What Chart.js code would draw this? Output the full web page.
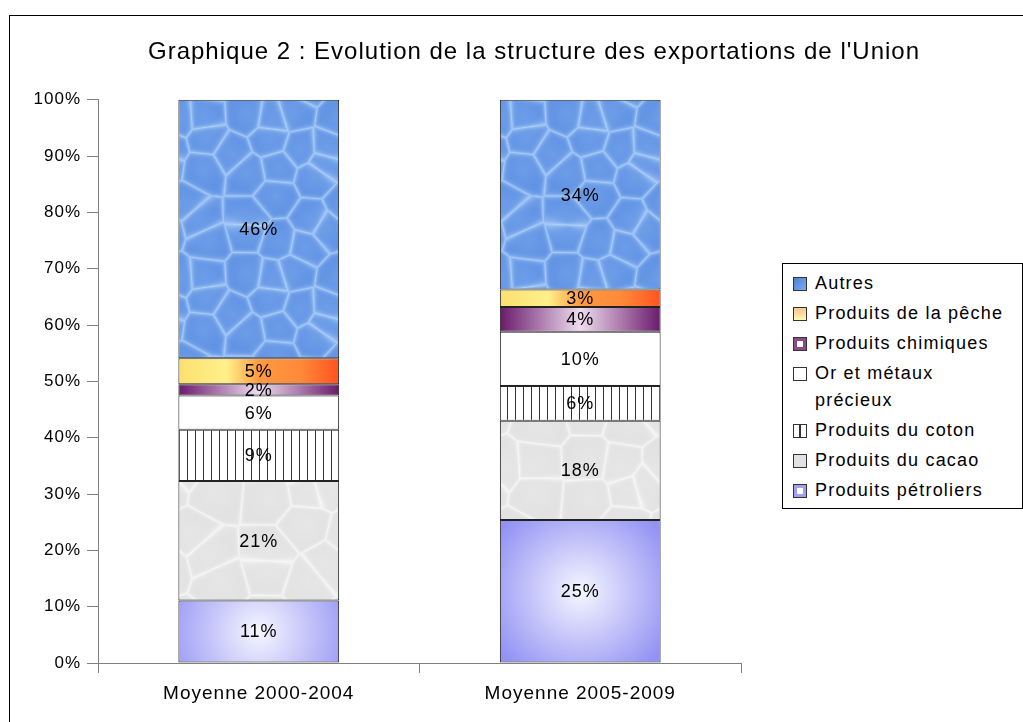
<!DOCTYPE html>
<html>
<head>
<meta charset="utf-8">
<script src="https://cdn.jsdelivr.net/npm/chart.js@4.4.1/dist/chart.umd.min.js"></script>
<style>
html, body { margin: 0; padding: 0; background: #fff; width: 1023px; height: 722px; overflow: hidden; }
#frame { position: absolute; left: 9px; top: 15px; width: 1100px; height: 800px; border-left: 1px solid #000; border-top: 1px solid #000; }
#wrap { position: absolute; left: 0; top: 0; width: 1068px; height: 722px; }
#legend { position: absolute; left: 782px; top: 263px; width: 241px; height: 246px; box-sizing: border-box;
  border: 1px solid #000; background: #fff; padding-top: 6px;
  font: 18px "Liberation Sans", Arial, sans-serif; letter-spacing: 1.2px; color: #000; }
#legend .item { position: relative; padding-left: 32px; line-height: 27px; margin-bottom: 3px; white-space: nowrap; }
#legend .sw { position: absolute; left: 10px; top: 7px; width: 12px; height: 12px; border: 1px solid #333; }
</style>
</head>
<body>
<div id="frame"></div>
<div id="wrap"><canvas id="chart" width="1068" height="722"></canvas></div>
<div id="legend"></div>
<script>
// categories and series (share of total exports, %)
var categories = ['Moyenne 2000-2004', 'Moyenne 2005-2009'];
var petroliers = [11.1, 25.4];
var cacao      = [21.2, 17.6];
var coton      = [9.1, 6.2];
var orMetaux   = [6.1, 9.6];
var chimiques  = [2.0, 4.4];
var peche      = [4.6, 3.1];
var autres     = [45.9, 33.7];
var seriesNames = ['Produits pétroliers', 'Produits du cacao', 'Produits du coton',
  'Or et métaux précieux', 'Produits chimiques', 'Produits de la pêche', 'Autres'];
var seriesKeys = ['petroliers', 'cacao', 'coton', 'or', 'chimiques', 'peche', 'autres'];
var allSeries = [petroliers, cacao, coton, orMetaux, chimiques, peche, autres];
var yTicks = [0, 10, 20, 30, 40, 50, 60, 70, 80, 90, 100];

var FONT = '"Liberation Sans", Arial, sans-serif';

// water-like texture (cell edges lighter)
function causticPattern(base, light, size, cell, soft) {
  var cv = document.createElement('canvas');
  cv.width = cv.height = size;
  var g = cv.getContext('2d');
  var img = g.createImageData(size, size);
  var n = size / cell;
  var pts = [];
  for (var j = 0; j < n; j++) {
    for (var i = 0; i < n; i++) {
      var h1 = Math.sin(i * 127.1 + j * 311.7) * 43758.5453; h1 -= Math.floor(h1);
      var h2 = Math.sin(i * 269.5 + j * 183.3) * 43758.5453; h2 -= Math.floor(h2);
      pts.push([(i + 0.1 + h1 * 0.8) * cell, (j + 0.1 + h2 * 0.8) * cell]);
    }
  }
  for (var y = 0; y < size; y++) {
    for (var x = 0; x < size; x++) {
      var f1 = 1e9, f2 = 1e9;
      for (var k = 0; k < pts.length; k++) {
        for (var oy = -1; oy <= 1; oy++) {
          for (var ox = -1; ox <= 1; ox++) {
            var dx = pts[k][0] + ox * size - x, dy = pts[k][1] + oy * size - y;
            var dd = Math.sqrt(dx * dx + dy * dy);
            if (dd < f1) { f2 = f1; f1 = dd; } else if (dd < f2) { f2 = dd; }
          }
        }
      }
      var t = Math.exp(-(f2 - f1) / soft) * 0.8 + Math.max(0, 0.15 - f1 / (cell * 4));
      var p = (y * size + x) * 4;
      img.data[p]     = base[0] + (light[0] - base[0]) * t;
      img.data[p + 1] = base[1] + (light[1] - base[1]) * t;
      img.data[p + 2] = base[2] + (light[2] - base[2]) * t;
      img.data[p + 3] = 255;
    }
  }
  g.putImageData(img, 0, 0);
  return cv;
}

function linesPattern() {
  var cv = document.createElement('canvas');
  cv.width = 8; cv.height = 8;
  var g = cv.getContext('2d');
  g.fillStyle = '#fff'; g.fillRect(0, 0, 8, 8);
  g.fillStyle = '#333'; g.fillRect(3, 0, 1, 8);
  return cv;
}

var canvas = document.getElementById('chart');
var c2d = canvas.getContext('2d');
var waterPat = c2d.createPattern(causticPattern([96, 146, 228], [184, 218, 252], 160, 32, 3.5), 'repeat');
var grayPat = c2d.createPattern(causticPattern([226, 226, 226], [252, 252, 252], 160, 40, 2.5), 'repeat');
var cotonPat = c2d.createPattern(linesPattern(), 'repeat');

function barBox(c) {
  var ch = c.chart, xs = ch.scales.x, ys = ch.scales.y;
  var i = c.dataIndex, d = c.datasetIndex, below = 0;
  for (var k = 0; k < d; k++) below += allSeries[k][i];
  var w = xs.width / categories.length * 0.5;
  var cx = xs.getPixelForValue(i);
  return { x0: cx - w / 2, x1: cx + w / 2,
    y0: ys.getPixelForValue(below + allSeries[d][i]), y1: ys.getPixelForValue(below) };
}

function fillFor(key) {
  return function (c) {
    if (key === 'autres') return waterPat;
    if (key === 'cacao') return grayPat;
    if (key === 'coton') return cotonPat;
    if (key === 'or') return '#ffffff';
    var fallback = { petroliers: '#9a9af6', chimiques: '#8a3a8a', peche: '#ffb040' }[key];
    if (c.type !== 'data' || !c.chart.scales.x || !c.chart.scales.y) return fallback;
    var b = barBox(c);
    if (![b.x0, b.x1, b.y0, b.y1].every(isFinite) || b.x1 - b.x0 <= 0) return fallback;
    var ctx = c.chart.ctx, gr;
    if (key === 'petroliers') {
      var cx = (b.x0 + b.x1) / 2, cy = (b.y0 + b.y1) / 2;
      var r = Math.max(b.x1 - b.x0, b.y1 - b.y0) * 0.62;
      gr = ctx.createRadialGradient(cx, cy, 0, cx, cy, r);
      gr.addColorStop(0, '#f6f6ff');
      gr.addColorStop(1, '#9292f4');
    } else if (key === 'chimiques') {
      gr = ctx.createLinearGradient(b.x0, 0, b.x1, 0);
      gr.addColorStop(0, '#6a1a6c');
      gr.addColorStop(0.5, '#eedcee');
      gr.addColorStop(1, '#6a1a6c');
    } else {
      gr = ctx.createLinearGradient(b.x0, 0, b.x1, 0);
      gr.addColorStop(0, '#fbe070');
      gr.addColorStop(0.3, '#fff08a');
      gr.addColorStop(0.5, '#ff9a40');
      gr.addColorStop(0.75, '#ff8a3a');
      gr.addColorStop(1, '#ff5420');
    }
    return gr;
  };
}

var datasets = allSeries.map(function (vals, d) {
  return {
    label: seriesNames[d],
    data: vals,
    backgroundColor: fillFor(seriesKeys[d]),
    borderColor: '#222',
    borderWidth: 1,
    borderSkipped: false
  };
});

// wider letter spacing, as in the reference rendering
var spacing = {
  id: 'spacing',
  beforeDraw: function (chart) { chart.ctx.letterSpacing = '1px'; }
};

var segmentLabels = {
  id: 'segmentLabels',
  afterDatasetsDraw: function (chart) {
    var ctx = chart.ctx;
    ctx.save();
    ctx.font = '18px ' + FONT;
    ctx.fillStyle = '#000';
    ctx.textAlign = 'center';
    ctx.textBaseline = 'middle';
    chart.data.datasets.forEach(function (ds, d) {
      chart.getDatasetMeta(d).data.forEach(function (el, i) {
        ctx.fillText(Math.round(ds.data[i]) + '%', el.x, (el.y + el.base) / 2 + 1);
      });
    });
    ctx.restore();
  }
};

var chart = new Chart(canvas, {
  type: 'bar',
  data: { labels: categories, datasets: datasets },
  plugins: [spacing, segmentLabels],
  options: {
    responsive: false,
    animation: false,
    devicePixelRatio: 1,
    categoryPercentage: 0.5,
    barPercentage: 1,
    layout: { padding: { left: 0, right: 0, top: 0, bottom: 0 } },
    plugins: {
      legend: { display: false },
      tooltip: { enabled: false },
      title: {
        display: true,
        text: "Graphique 2 : Evolution de la structure des exportations de l'Union",
        color: '#000',
        font: { family: FONT, size: 24, weight: 'normal', lineHeight: 1.2 },
        padding: { top: 38, bottom: 33 }
      }
    },
    scales: {
      x: {
        stacked: true,
        grid: { drawOnChartArea: false, tickLength: 10, color: '#808080', offset: true },
        border: { color: '#808080' },
        ticks: { color: '#000', font: { family: FONT, size: 19 }, padding: 9 },
        afterFit: function (s) { s.height = 59; }
      },
      y: {
        stacked: true,
        min: 0,
        max: 100,
        afterBuildTicks: function (s) { s.ticks = yTicks.map(function (v) { return { value: v }; }); },
        grid: { drawOnChartArea: false, tickLength: 11, color: '#808080' },
        border: { color: '#808080' },
        ticks: { color: '#000', font: { family: FONT, size: 17 }, padding: 6,
          callback: function (v) { return v + '%'; } },
        afterFit: function (s) { s.width = 98; }
      },
      spacer: {
        type: 'linear',
        position: 'right',
        display: true,
        grid: { display: false },
        border: { display: false },
        ticks: { display: false },
        afterFit: function (s) { s.width = 327; }
      }
    }
  }
});
// gradients depend on laid-out scales: redraw once layout is known
chart.update('none');

// legend (top to bottom: reverse of stacking order)
var swatchCss = {
  autres: 'background:linear-gradient(135deg,#4a82d8,#7eaaee);',
  peche: 'background:linear-gradient(to bottom,#ffc48a,#fff6b8);',
  chimiques: 'background:#fff;box-shadow:inset 0 0 0 3px #8a4a8c;',
  or: 'background:#fff;',
  coton: 'background:linear-gradient(to right,#fff 45%,#333 45%,#333 55%,#fff 55%);',
  cacao: 'background:#e2e2e2;',
  petroliers: 'background:#fff;box-shadow:inset 0 0 0 3px #a0a0f0;'
};
var legendHtml = '';
for (var d = seriesNames.length - 1; d >= 0; d--) {
  var txt = seriesNames[d] === 'Or et métaux précieux' ? 'Or et métaux<br>précieux' : seriesNames[d];
  legendHtml += '<div class="item"><span class="sw" style="' + swatchCss[seriesKeys[d]] + '"></span>' +
    txt + '</div>';
}
document.getElementById('legend').innerHTML = legendHtml;
</script>
</body>
</html>
